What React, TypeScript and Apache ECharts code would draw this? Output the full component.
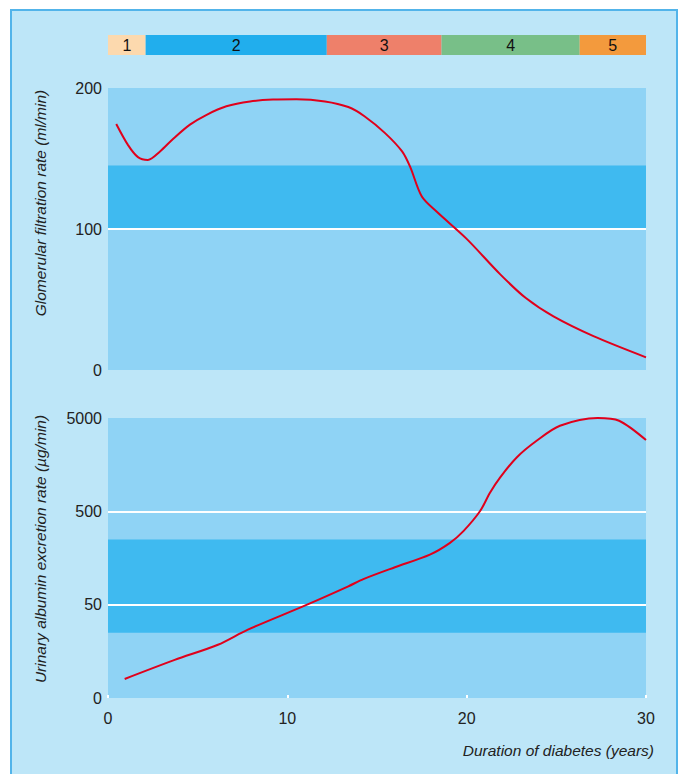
import React, { useEffect, useRef } from "react";
import * as echarts from "echarts";

const stageLabels = ["1", "2", "3", "4", "5"];
const stageBounds = [0, 2.1, 12.2, 18.6, 26.3, 30];

const gfrYears = [0.46, 1.12, 1.67, 2.22, 2.9, 3.64, 4.57, 5.5, 6.6, 7.92, 9.2, 10.5, 12.1, 13.4, 14.3, 15.45, 16.4, 16.85, 17.5, 18.35, 20, 21.86, 23.3, 24.84, 27.07, 30];
const gfrValues = [174.5, 159.5, 151, 149, 155, 164, 174, 181, 187, 190.5, 191.8, 192, 190.5, 186.5, 180, 168, 155, 144, 123, 112, 93, 68, 51, 38, 24, 9];

const albYears = [0.93, 3.72, 6.13, 7.8, 10.97, 13.4, 14.24, 16, 17.95, 19.07, 19.82, 20.75, 21.3, 21.86, 22.79, 23.9, 25.2, 27.3, 28.5, 30];
const albValues = [8, 12.8, 18.6, 27, 48.8, 78.6, 94, 126, 172, 230, 307, 504, 792, 1150, 1890, 2850, 4130, 5000, 4670, 2900];

const gfrTicks = [0, 100, 200];
const albTicks = [5, 50, 500, 5000];
const albTickLabels = ["0", "50", "500", "5000"];
const xTicks = [0, 10, 20, 30];

const gfrBand = [100, 145];
const albBand = [25, 250];
const gfrLines = [100];
const albLines = [50, 500];

const gfrTitle = "Glomerular filtration rate (ml/min)";
const albTitle = "Urinary albumin excretion rate (\u00b5g/min)";
const xTitle = "Duration of diabetes (years)";

const stageColors = ["#fcd9ae", "#21aeed", "#ee806a", "#78bf88", "#f39a3d"];
const FONT = "'Liberation Sans', Arial, sans-serif";

export default function App() {
  const ref = useRef<HTMLDivElement>(null);
  useEffect(() => {
    document.body.style.margin = "0";
    const chart = echarts.init(ref.current!, null, { renderer: "svg" });
    const markLineStyle = (vals: number[]) => ({
      silent: true,
      symbol: "none",
      label: { show: false },
      lineStyle: { color: "#ffffff", width: 2, type: "solid" },
      data: vals.map((v) => ({ yAxis: v })),
    });
    const titleText = (text: string, x: number, y: number) => ({
      type: "text",
      x,
      y,
      rotation: Math.PI / 2,
      style: {
        text,
        font: `italic 15.5px ${FONT}`,
        fill: "#222",
        align: "center",
        verticalAlign: "middle",
      },
    });
    const option: any = {
      animation: false,
      backgroundColor: "#ffffff",
      textStyle: { fontFamily: FONT },
      graphic: [
        {
          type: "rect",
          z: -10,
          shape: { x: 11, y: 10, width: 666, height: 790 },
          style: { fill: "#bde6f8", stroke: "#52b4ea", lineWidth: 2 },
        },
        titleText(gfrTitle, 40, 203),
        titleText(albTitle, 40, 549),
        {
          type: "text",
          right: 27,
          top: 742,
          style: {
            text: xTitle,
            font: `italic 15.5px ${FONT}`,
            fill: "#222",
            textAlign: "right",
          },
        },
      ],
      grid: [
        { left: 108, width: 538, top: 35, height: 20 },
        { left: 108, width: 538, top: 88, height: 282, show: true, backgroundColor: "#8fd3f5", borderWidth: 0 },
        { left: 108, width: 538, top: 418, height: 280, show: true, backgroundColor: "#8fd3f5", borderWidth: 0 },
      ],
      xAxis: [
        { gridIndex: 0, type: "value", min: 0, max: 30, show: false },
        { gridIndex: 1, type: "value", min: 0, max: 30, show: false },
        {
          gridIndex: 2,
          type: "value",
          min: 0,
          max: 30,
          interval: 10,
          axisLine: { show: false },
          splitLine: { show: false },
          axisTick: { show: true, inside: true, length: 3, lineStyle: { color: "#ffffff", width: 2 } },
          axisLabel: { color: "#222", fontSize: 16, margin: 12, fontFamily: FONT, customValues: xTicks },
        },
      ],
      yAxis: [
        { gridIndex: 0, type: "category", data: ["stage"], show: false },
        {
          gridIndex: 1,
          type: "value",
          min: 0,
          max: 200,
          interval: 100,
          axisLine: { show: false },
          axisTick: { show: false },
          splitLine: { show: false },
          axisLabel: { color: "#222", fontSize: 16, margin: 6, fontFamily: FONT, customValues: gfrTicks },
        },
        {
          gridIndex: 2,
          type: "log",
          logBase: 10,
          min: 5,
          max: 5000,
          axisLine: { show: false },
          axisTick: { show: false },
          splitLine: { show: false },
          axisLabel: {
            color: "#222",
            fontSize: 16,
            margin: 6,
            fontFamily: FONT,
            customValues: albTicks,
            formatter: (v: number) => {
              const i = albTicks.findIndex((t) => Math.abs(t - v) / t < 0.01);
              return i >= 0 ? albTickLabels[i] : "";
            },
          },
        },
      ],
      series: [
        ...stageLabels.map((lab, i) => ({
          type: "bar",
          xAxisIndex: 0,
          yAxisIndex: 0,
          stack: "stages",
          barWidth: "100%",
          silent: true,
          itemStyle: { color: stageColors[i] },
          label: { show: true, position: "inside", formatter: lab, color: "#111", fontSize: 16, fontFamily: FONT },
          data: [stageBounds[i + 1] - stageBounds[i]],
        })),
        {
          type: "line",
          xAxisIndex: 1,
          yAxisIndex: 1,
          smooth: 0.3,
          showSymbol: false,
          lineStyle: { color: "#e0001b", width: 2 },
          data: gfrYears.map((t, i) => [t, gfrValues[i]]),
          markArea: {
            silent: true,
            itemStyle: { color: "#3fbaf0" },
            data: [[{ yAxis: gfrBand[0] }, { yAxis: gfrBand[1] }]],
          },
          markLine: markLineStyle(gfrLines),
          z: 5,
        },
        {
          type: "line",
          xAxisIndex: 2,
          yAxisIndex: 2,
          smooth: 0.3,
          showSymbol: false,
          lineStyle: { color: "#e0001b", width: 2 },
          data: albYears.map((t, i) => [t, albValues[i]]),
          markArea: {
            silent: true,
            itemStyle: { color: "#3fbaf0" },
            data: [[{ yAxis: albBand[0] }, { yAxis: albBand[1] }]],
          },
          markLine: markLineStyle(albLines),
          z: 5,
        },
      ],
    };
    chart.setOption(option);
    return () => chart.dispose();
  }, []);
  return <div ref={ref} style={{ width: 681, height: 774 }} />;
}
